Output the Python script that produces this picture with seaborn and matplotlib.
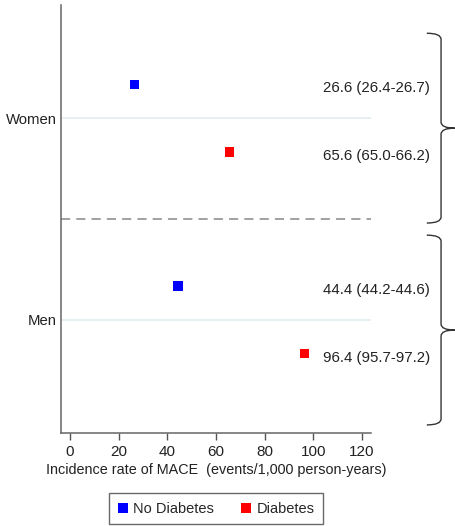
import matplotlib
matplotlib.use("Agg")
import matplotlib.pyplot as plt
import matplotlib.transforms as mtransforms
from matplotlib.path import Path
from matplotlib.patches import PathPatch
import pandas as pd
import seaborn as sns

# data
sexes = ["Women", "Women", "Men", "Men"]
groups = ["No Diabetes", "Diabetes", "No Diabetes", "Diabetes"]
rates = [26.6, 65.6, 44.4, 96.4]
ci_low = [26.4, 65.0, 44.2, 95.7]
ci_high = [26.7, 66.2, 44.6, 97.2]

sex_order = ["Men", "Women"]          # bottom to top
group_offset = {"No Diabetes": 0.168, "Diabetes": -0.168}
palette = {"No Diabetes": "#0000ff", "Diabetes": "#ff0000"}
xticks = [0, 20, 40, 60, 80, 100, 120]

df = pd.DataFrame({"sex": sexes, "group": groups, "rate": rates,
                   "lo": ci_low, "hi": ci_high})
df["ypos"] = df["sex"].map(sex_order.index) + df["group"].map(group_offset)
df["label"] = [f"{r:.1f} ({l:.1f}-{h:.1f})" for r, l, h in zip(df.rate, df.lo, df.hi)]

sns.set_theme(style="white")
plt.rcParams["font.family"] = ["Liberation Sans", "DejaVu Sans"]

fig = plt.figure(figsize=(4.56, 5.26), dpi=100)
ax = fig.add_axes([61 / 456, 1 - 433 / 526, 310 / 456, 428 / 526])

for i in range(len(sex_order)):
    ax.axhline(i, color="#e2ecef", lw=1.2, zorder=0)
ax.axhline(0.5, color="#888888", lw=1.1, ls=(0, (6, 4)), zorder=1)

sns.scatterplot(data=df, x="rate", y="ypos", hue="group", palette=palette,
                hue_order=["No Diabetes", "Diabetes"], marker="s", s=44,
                linewidth=0, ax=ax, zorder=3)

ax.set_xlim(-3.7, 123.7)
ax.set_ylim(-0.56, 1.56)
ax.set_xticks(xticks)
ax.set_yticks(range(len(sex_order)))
ax.set_yticklabels(sex_order)
ax.set_xlabel("Incidence rate of MACE  (events/1,000 person-years)",
              fontsize=10.4, color="#222222", labelpad=3)
ax.set_ylabel("")
ax.tick_params(axis="x", length=5, width=1, color="#555555", labelsize=11,
               labelcolor="#222222", pad=3.5, bottom=True)
ax.tick_params(axis="y", length=0, labelsize=10.7, labelcolor="#222222", pad=3)
for side in ["top", "right"]:
    ax.spines[side].set_visible(False)
for side in ["left", "bottom"]:
    ax.spines[side].set_color("#666666")
    ax.spines[side].set_linewidth(1.1)

# estimate labels
trans = mtransforms.blended_transform_factory(ax.transAxes, ax.transData)
for _, row in df.iterrows():
    ax.text(1.19, row.ypos - 0.02, row.label, transform=trans, ha="right",
            va="center", fontsize=10.8, color="#222222", clip_on=False)


def brace(ytop, ybot, x0=1.18, x1=1.226, x2=1.27, r=0.03):
    ymid = (ytop + ybot) / 2
    verts = [(x0, ytop), (x1, ytop), (x1, ytop - r),
             (x1, ymid + r),
             (x1, ymid), (x2, ymid),
             (x1, ymid), (x1, ymid - r),
             (x1, ybot + r),
             (x1, ybot), (x0, ybot)]
    codes = [Path.MOVETO, Path.CURVE3, Path.CURVE3,
             Path.LINETO,
             Path.CURVE3, Path.CURVE3,
             Path.CURVE3, Path.CURVE3,
             Path.LINETO,
             Path.CURVE3, Path.CURVE3]
    patch = PathPatch(Path(verts, codes), transform=trans, fill=False,
                      edgecolor="#333333", lw=1.0, clip_on=False)
    ax.add_patch(patch)


for i in range(len(sex_order)):
    brace(i + 0.42, i - 0.52)

handles, labels = ax.get_legend_handles_labels()
leg = ax.legend(handles, labels, loc="upper center", bbox_to_anchor=(0.5, -0.14),
                ncol=2, frameon=True, fancybox=False, fontsize=10.5,
                handletextpad=0.3, columnspacing=1.8, borderpad=0.6,
                borderaxespad=0, handlelength=0.8, markerscale=1.0)
leg.get_frame().set_edgecolor("#444444")
leg.get_frame().set_linewidth(1.0)

fig.savefig("out.png", dpi=100)
